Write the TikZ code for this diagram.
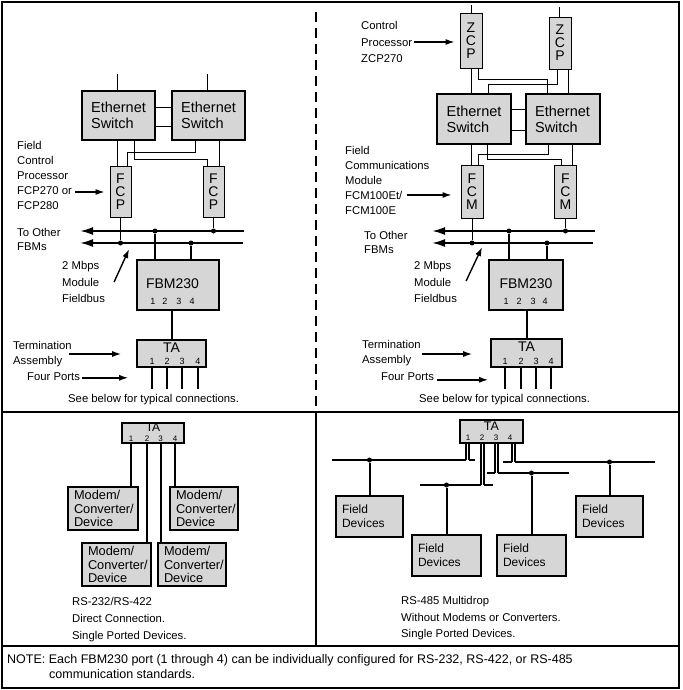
\documentclass[tikz,border=0pt]{standalone}
\usepackage{fontspec}
\setmainfont{Liberation Sans}
\usepackage{tikz}
\usetikzlibrary{positioning}
\usetikzlibrary{calc}
\usetikzlibrary{arrows.meta}

\definecolor{boxgray}{gray}{0.84}

\begin{document}
\begin{tikzpicture}[x=1pt, y=-1pt, >={Latex[length=9pt,width=6pt]}]
		\tikzstyle{switchbox} = [draw, line width=2pt, fill=boxgray, minimum width=73pt, minimum height=49pt, align=left, inner sep=0pt, font=\fontsize{14.5}{16}\selectfont]
		\tikzstyle{cpubox} = [draw, line width=0.8pt, fill=boxgray, minimum width=21pt, align=center, inner sep=0pt, font=\fontsize{14}{13}\selectfont]
		\tikzstyle{fbmbox} = [draw, line width=1.8pt, fill=boxgray, minimum height=50pt]
		\tikzstyle{boxname} = [inner sep=0pt, font=\fontsize{14}{14}\selectfont]
		\tikzstyle{tabox} = [draw, line width=1.6pt, fill=boxgray]
		\tikzstyle{devbox} = [draw, line width=1.8pt, fill=boxgray, align=left, inner xsep=6pt, inner ysep=0pt]
		\tikzstyle{lbl} = [anchor=west, align=left, inner sep=0pt, font=\fontsize{11.3}{15}\selectfont]
		\tikzstyle{portnum} = [inner sep=0pt, font=\fontsize{9}{9}\selectfont]
		\tikzstyle{wire} = [line width=0.8pt]
		\tikzstyle{bus} = [line width=2pt]
		\tikzstyle{busarrow} = [bus, arrows={Latex[length=13pt,width=8pt]-}]
		\tikzstyle{pointer} = [->, line width=1.4pt]
		\tikzstyle{junction} = [circle, fill, inner sep=0pt, minimum size=5pt]
		\tikzstyle{frame} = [line width=1.6pt]

		\useasboundingbox (0,0) rectangle (682,690);

	% Marco
		\draw[frame] (2,2) rectangle (679,688);
		\draw[frame] (2,412) -- (679,412);
		\draw[frame] (2,646) -- (679,646);
		\draw[line width=1.4pt] (316,412) -- (316,646);
		\draw[line width=1.1pt, dash pattern=on 10pt off 6pt] (316,12) -- (316,412);

	% Cajas, FCP270
		\node[switchbox] (sw1) at (118.5,115.5) {Ethernet\\Switch};
		\node[switchbox] (sw2) at (208.5,115.5) {Ethernet\\Switch};
		\node[cpubox, minimum height=51pt] (fcp1) at (120.5,191.5) {F\\C\\P};
		\node[cpubox, minimum height=51pt] (fcp2) at (213.5,191.5) {F\\C\\P};
		\node[fbmbox, minimum width=82pt] (fbm1) at (178,285) {};
		\node[boxname] (fbm1name) at (172.5,284) {FBM230};
		\node[tabox, minimum width=69pt, minimum height=27pt] (ta1) at (171.5,353.5) {};
		\node[boxname, below=3pt of ta1.north] (ta1name) {TA};
		\foreach \p/\x in {1/153,2/165,3/179,4/192}
			\node[portnum] (fbm1p\p) at (\x,301) {\p};
		\foreach \p/\x in {1/152,2/167,3/182,4/198}
			\node[portnum] (ta1p\p) at (\x,361) {\p};

	% Buses, FCP270
		\coordinate (bus1w) at (80,231);
		\coordinate (bus1e) at (244,231);
		\coordinate (bus2w) at (80,243);
		\coordinate (bus2e) at (243,243);
		\draw[busarrow] (bus1w) -- (bus1e);
		\draw[busarrow] (bus2w) -- (bus2e);
		\node[junction] (jl1) at (fcp1.south |- bus2w) {};
		\node[junction] (jl2) at (fcp2.south |- bus1w) {};
		\node[junction] (jl3) at (155,231) {};
		\node[junction] (jl4) at (191,243) {};

	% Enlaces, FCP270
		\draw[wire] ($(sw1.north)+(-1.5,0)$) -- ++(0,-16);
		\draw[wire] ($(sw2.north)+(-1.5,0)$) -- ++(0,-16);
		\draw[wire] ($(sw1.east)+(0,-8.5)$) -- ($(sw2.west)+(0,-8.5)$);
		\draw[wire] ($(sw1.east)+(0,10.5)$) -- ($(sw2.west)+(0,10.5)$);
		\draw[wire] ($(sw1.south)+(-1.5,0)$) -- ++(0,26);
		\draw[wire] ($(sw1.south)+(15.5,0)$) -- ++(0,18) -| ($(fcp2.north)+(-6.5,0)$);
		\draw[wire] ($(sw2.south)+(-13.5,0)$) -- ++(0,11) -| ($(fcp1.north)+(6.5,0)$);
		\draw[wire] ($(sw2.south)+(10.5,0)$) -- ++(0,26);
		\draw[wire] (fcp1.south) -- (jl1);
		\draw[wire] (fcp2.south) -- (jl2);
		\draw[bus] (jl3) -- (jl3 |- fbm1.north);
		\draw[bus] (jl4) -- (jl4 |- fbm1.north);
		\draw[bus] (ta1.north) -- (ta1.north |- fbm1.south);
		\foreach \p in {1,...,4}
			\draw[bus] (ta1p\p |- ta1.south) -- ++(0,21);

	% Textos, FCP270
		\node[lbl] (lblfcp) at (17,175) {Field\\Control\\Processor\\FCP270 or\\FCP280};
		\node[lbl, font=\fontsize{11.3}{14}\selectfont] (lblother1) at (17,239) {To Other\\FBMs};
		\node[lbl, font=\fontsize{11.3}{16.5}\selectfont] (lblmbps1) at (62,282) {2 Mbps\\Module\\Fieldbus};
		\node[lbl, font=\fontsize{11.3}{14.5}\selectfont] (lblterm1) at (13,354) {Termination\\Assembly};
		\node[lbl] (lblports1) at (27,377) {Four Ports};
		\node[lbl] (lblsee1) at (68,400) {See below for typical connections.};
		\draw[pointer] ($(fcp1.west)+(-35,0.5)$) -- ($(fcp1.west)+(-5,0.5)$);
		\draw[pointer] ($(fbm1.west)+(-22,-3)$) -- ($(fbm1.north west)+(-7,-10)$);
		\draw[pointer] ($(ta1.west)+(-67,0.5)$) -- ($(ta1.west)+(-15,0.5)$);
		\draw[pointer] ($(ta1.south west)+(-54,10)$) -- ($(ta1.south west)+(-8,10)$);

	% Cajas, ZCP270
		\node[cpubox, minimum width=22pt, minimum height=55pt] (zcp1) at (471,40.5) {Z\\C\\P};
		\node[cpubox, minimum width=22pt, minimum height=52pt] (zcp2) at (560,43) {Z\\C\\P};
		\node[switchbox, minimum width=74pt, minimum height=50pt] (sw3) at (474,119) {Ethernet\\Switch};
		\node[switchbox, minimum width=74pt, minimum height=50pt] (sw4) at (562.5,119) {Ethernet\\Switch};
		\node[cpubox, minimum width=22pt, minimum height=53pt] (fcm1) at (472,191.5) {F\\C\\M};
		\node[cpubox, minimum width=22pt, minimum height=53pt] (fcm2) at (565.5,191.5) {F\\C\\M};
		\node[fbmbox, minimum width=74pt] (fbm2) at (526,285) {};
		\node[boxname] (fbm2name) at (526,284) {FBM230};
		\node[tabox, minimum width=71pt, minimum height=28pt] (ta2) at (526.5,353) {};
		\node[boxname, below=3pt of ta2.north] (ta2name) {TA};
		\foreach \p/\x in {1/506,2/519,3/533,4/545}
			\node[portnum] (fbm2p\p) at (\x,301) {\p};
		\foreach \p/\x in {1/505,2/521,3/536,4/551}
			\node[portnum] (ta2p\p) at (\x,361) {\p};

	% Buses, ZCP270
		\coordinate (bus3w) at (432,231);
		\coordinate (bus3e) at (595,231);
		\coordinate (bus4w) at (432,243);
		\coordinate (bus4e) at (593,243);
		\draw[busarrow] (bus3w) -- (bus3e);
		\draw[busarrow] (bus4w) -- (bus4e);
		\node[junction] (jr1) at (fcm1.south |- bus4w) {};
		\node[junction] (jr2) at (fcm2.south |- bus3w) {};
		\node[junction] (jr3) at (509,231) {};
		\node[junction] (jr4) at (547,243) {};

	% Enlaces, ZCP270
		\draw[wire] (zcp1.north) -- ++(0,-8);
		\draw[wire] ($(zcp2.north)+(-1,0)$) -- ++(0,-10);
		\draw[wire] (zcp1.south) -- (zcp1.south |- sw3.north);
		\draw[wire] ($(zcp1.south)+(7,0)$) -- ++(0,11) -| ($(sw4.north)+(-15.5,0)$);
		\draw[wire] ($(zcp2.south)+(-3,0)$) -- ++(0,15) -| ($(sw3.north)+(14,0)$);
		\draw[wire] ($(zcp2.south)+(8,0)$) -- ++(0,25);
		\draw[wire] ($(sw3.east)+(0,-10)$) -- ($(sw4.west)+(0,-10)$);
		\draw[wire] ($(sw3.east)+(0,11)$) -- ($(sw4.west)+(0,11)$);
		\draw[wire] ($(sw3.south)+(-3,0)$) -- ++(0,21);
		\draw[wire] ($(sw3.south)+(13,0)$) -- ++(0,14) -| ($(fcm2.north)+(-4.5,0)$);
		\draw[wire] ($(sw4.south)+(-14.5,0)$) -- ++(0,9) -| ($(fcm1.north)+(6,0)$);
		\draw[wire] ($(sw4.south)+(9.5,0)$) -- ++(0,21);
		\draw[wire] (fcm1.south) -- (jr1);
		\draw[wire] (fcm2.south) -- (jr2);
		\draw[bus] (jr3) -- (jr3 |- fbm2.north);
		\draw[bus] (jr4) -- (jr4 |- fbm2.north);
		\draw[bus] (ta2.north) -- (ta2.north |- fbm2.south);
		\foreach \p in {1,...,4}
			\draw[bus] (ta2p\p |- ta2.south) -- ++(0,21);

	% Textos, ZCP270
		\node[lbl, font=\fontsize{11.3}{16.5}\selectfont] (lblzcp) at (361,42) {Control\\Processor\\ZCP270};
		\node[lbl] (lblfcm) at (345,180) {Field\\Communications\\Module\\FCM100Et/\\FCM100E};
		\node[lbl, font=\fontsize{11.3}{14}\selectfont] (lblother2) at (364,242) {To Other\\FBMs};
		\node[lbl, font=\fontsize{11.3}{16.5}\selectfont] (lblmbps2) at (414,282) {2 Mbps\\Module\\Fieldbus};
		\node[lbl, font=\fontsize{11.3}{15}\selectfont] (lblterm2) at (362,353) {Termination\\Assembly};
		\node[lbl] (lblports2) at (381,377) {Four Ports};
		\node[lbl] (lblsee2) at (419,400) {See below for typical connections.};
		\draw[pointer] ($(zcp1.west)+(-46,1.5)$) -- ($(zcp1.west)+(-5,1.5)$);
		\draw[pointer] ($(fcm1.west)+(-54,3.5)$) -- ($(fcm1.west)+(-9,3.5)$);
		\draw[pointer] ($(fbm2.west)+(-22,-4)$) -- ($(fbm2.north west)+(-6,-12)$);
		\draw[pointer] ($(ta2.west)+(-68,1)$) -- ($(ta2.west)+(-18,1)$);
		\draw[pointer] ($(ta2.south west)+(-53,12)$) -- ($(ta2.south west)+(-2,12)$);

	% RS-232/RS-422
		\node[tabox, minimum width=62pt, minimum height=20pt] (ta3) at (153,433) {};
		\node[boxname, font=\fontsize{12}{12}\selectfont, below=1pt of ta3.north] (ta3name) {TA};
		\foreach \p/\x in {1/131,2/147,3/160.5,4/175}
			\node[portnum, font=\fontsize{8}{8}\selectfont] (ta3p\p) at (\x,438.5) {\p};
		\node[devbox, text width=58pt, minimum height=43pt, font=\fontsize{12.8}{13.5}\selectfont] (mod1) at (103,508.5) {Modem/\\Converter/\\Device};
		\node[devbox, text width=56pt, minimum height=43pt, font=\fontsize{12.8}{13.5}\selectfont] (mod2) at (204,508.5) {Modem/\\Converter/\\Device};
		\node[devbox, text width=57pt, minimum height=43pt, font=\fontsize{12.8}{13.5}\selectfont] (mod3) at (116.5,564.5) {Modem/\\Converter/\\Device};
		\node[devbox, text width=56pt, minimum height=43pt, font=\fontsize{12.8}{13.5}\selectfont] (mod4) at (192,564.5) {Modem/\\Converter/\\Device};
		\draw[bus] (ta3p1 |- ta3.south) -- (ta3p1 |- mod1.north);
		\draw[bus] (ta3p2 |- ta3.south) -- (ta3p2 |- mod3.north);
		\draw[bus] (ta3p3 |- ta3.south) -- (ta3p3 |- mod4.north);
		\draw[bus] (ta3p4 |- ta3.south) -- (ta3p4 |- mod2.north);
		\node[lbl, font=\fontsize{11.3}{17}\selectfont] (lbl232) at (72,620) {RS-232/RS-422\\Direct Connection.\\Single Ported Devices.};

	% RS-485
		\node[tabox, minimum width=63pt, minimum height=23pt] (ta4) at (491.5,431.5) {};
		\node[boxname, font=\fontsize{12.5}{12.5}\selectfont, below=2pt of ta4.north] (ta4name) {TA};
		\foreach \p/\x in {1/468,2/482,3/496,4/510}
			\node[portnum, font=\fontsize{8}{8}\selectfont] (ta4p\p) at (\x,438) {\p};
		\foreach \xl/\xr/\yb/\xa/\xb in {466/469/460/332/475, 481/484/485/420/493, 495/498/473/487/569, 512/515/462/503/655} {
			\draw[bus] (\xa,\yb) -- (\xl,\yb);
			\draw[bus] (\xr,\yb) -- (\xb,\yb);
			\draw[line width=1.2pt] (\xl,\yb) -- (\xl,443) (\xr,443) -- (\xr,\yb);
		}
		\node[devbox, text width=55pt, minimum height=41pt, font=\fontsize{12}{14}\selectfont] (fd1) at (369.5,516.5) {Field\\Devices};
		\node[devbox, text width=57pt, minimum height=41pt, font=\fontsize{12}{14}\selectfont] (fd2) at (446.5,555.5) {Field\\Devices};
		\node[devbox, text width=57pt, minimum height=41pt, font=\fontsize{12}{14}\selectfont] (fd3) at (531.5,555.5) {Field\\Devices};
		\node[devbox, text width=55pt, minimum height=41pt, font=\fontsize{12}{14}\selectfont] (fd4) at (609.5,516.5) {Field\\Devices};
		\node[junction] (jd1) at (fd1.north |- 0,460) {};
		\node[junction] (jd2) at (fd2.north |- 0,485) {};
		\node[junction] (jd3) at (fd3.north |- 0,473) {};
		\node[junction] (jd4) at (fd4.north |- 0,462) {};
		\foreach \d in {1,...,4}
			\draw[bus] (jd\d) -- (fd\d.north);
		\node[lbl, font=\fontsize{11.3}{16.5}\selectfont] (lbl485) at (401,618.5) {RS-485 Multidrop\\Without Modems or Converters.\\Single Ported Devices.};

	% Nota
		\node[lbl, font=\fontsize{12.5}{14}\selectfont] (note1) at (7,660) {NOTE: Each FBM230 port (1 through 4) can be individually configured for RS-232, RS-422, or RS-485};
		\node[lbl, font=\fontsize{12.5}{14}\selectfont] (note2) at (49,674) {communication standards.};

	\end{tikzpicture}
\end{document}
